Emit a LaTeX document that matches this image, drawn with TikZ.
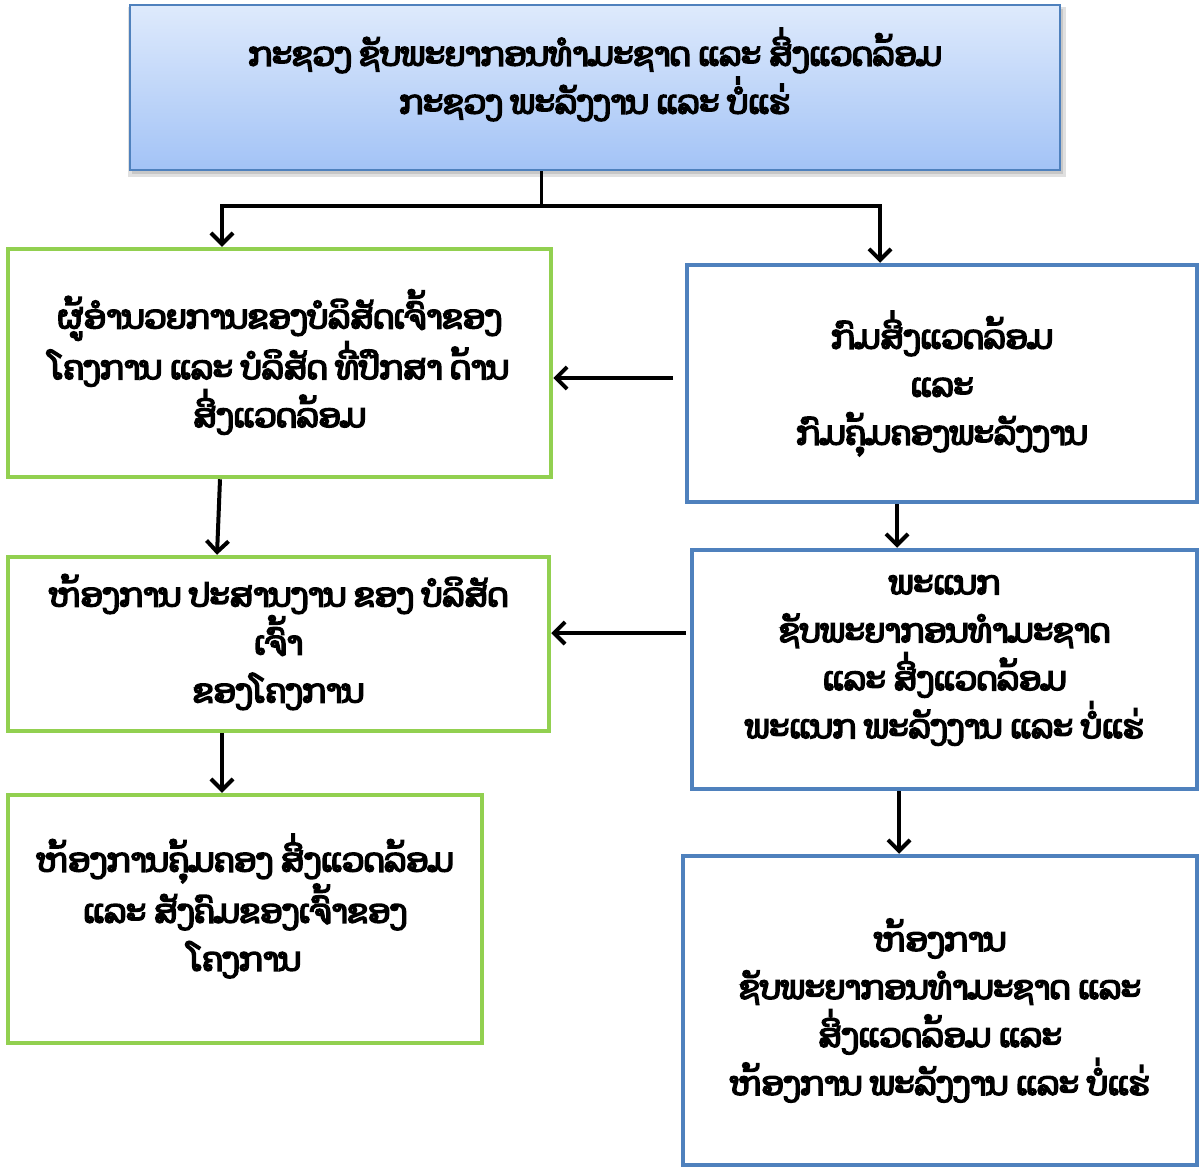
\documentclass[tikz,border=0pt]{standalone}
\usepackage{fontspec}
\newfontfamily\lao[Script=Lao,AutoFakeBold=5.5]{Dhyana}
\usetikzlibrary{arrows.meta}
\definecolor{boxgreen}{HTML}{92D050}
\definecolor{boxblue}{HTML}{4F81BD}
\definecolor{topA}{HTML}{DEEAFC}
\definecolor{topB}{HTML}{A3C3F6}
\tikzset{
  gbox/.style={draw=boxgreen, line width=4.5pt, fill=white, inner sep=0pt},
  bbox/.style={draw=boxblue, line width=4.5pt, fill=white, inner sep=0pt},
  txt/.style={align=center, font=\lao\bfseries\fontsize{32}{48}\selectfont, inner sep=0pt},
  arr/.style={line width=4pt, -{Straight Barb[length=11pt,width=22pt,line width=4pt]}},
  link/.style={line width=3pt}
}
\begin{document}
\begin{tikzpicture}[x=1pt,y=-1pt]
\useasboundingbox (0,0) rectangle (1200,1167);
% shadow of top box
\fill[black!12] (128,7) rectangle (1066,177);
\fill[black!22] (132,9) rectangle (1063,174);
% top box
\node[draw=boxblue, line width=2.5pt, top color=topA, bottom color=topB,
      minimum width=930pt, minimum height=165pt, inner sep=0pt] (top) at (595,87.5) {};
\node[txt] (ttop) at ([yshift=13pt]top.center) {ກະຊວງ ຊັບພະຍາກອນທຳມະຊາດ ແລະ ສິ່ງແວດລ້ອມ\\ກະຊວງ ພະລັງງານ ແລະ ບໍ່ແຮ່};
% left column
\node[gbox, minimum width=543pt, minimum height=228pt] (l1) at (279.5,363) {};
\node[txt] (tl1) at ([yshift=1pt]l1.center) {ຜູ້ອຳນວຍການຂອງບໍລິສັດເຈົ້າຂອງ\\ໂຄງການ ແລະ ບໍລິສັດ ທີ່ປຶກສາ ດ້ານ\\ສິ່ງແວດລ້ອມ};
\node[gbox, minimum width=541pt, minimum height=174pt] (l2) at (278.5,644) {};
\node[txt] (tl2) at ([yshift=2pt]l2.center) {ຫ້ອງການ ປະສານງານ ຂອງ ບໍລິສັດ\\ເຈົ້າ\\ຂອງໂຄງການ};
\node[gbox, minimum width=474pt, minimum height=248pt] (l3) at (245,919) {};
\node[txt] (tl3) at ([yshift=13pt]l3.center) {ຫ້ອງການຄຸ້ມຄອງ ສິ່ງແວດລ້ອມ\\ແລະ ສັງຄົມຂອງເຈົ້າຂອງ\\ໂຄງການ};
% right column
\node[bbox, minimum width=510pt, minimum height=237pt] (r1) at (942,383.5) {};
\node[txt] (tr1) at (r1.center) {ກົມສິ່ງແວດລ້ອມ\\ແລະ\\ກົມຄຸ້ມຄອງພະລັງງານ};
\node[bbox, minimum width=505pt, minimum height=239pt] (r2) at (944.5,669.5) {};
\node[txt] (tr2) at ([yshift=9pt]r2.center) {ພະແນກ\\ຊັບພະຍາກອນທຳມະຊາດ\\ແລະ ສິ່ງແວດລ້ອມ\\ພະແນກ ພະລັງງານ ແລະ ບໍ່ແຮ່};
\node[bbox, minimum width=514pt, minimum height=309pt] (r3) at (940,1010.5) {};
\node[txt] (tr3) at ([yshift=0pt]r3.center) {ຫ້ອງການ\\ຊັບພະຍາກອນທຳມະຊາດ ແລະ\\ສິ່ງແວດລ້ອມ ແລະ\\ຫ້ອງການ ພະລັງງານ ແລະ ບໍ່ແຮ່};
% connectors
\coordinate (split) at (541,206);
\draw[link] (split |- top.south) -- (split);
\draw[arr] (split) -| ([xshift=-57.5pt]l1.north);
\draw[arr] (split) -| ([xshift=-62pt]r1.north);
\coordinate (a1) at (673,378);
\draw[arr] (a1) -- (a1 -| l1.east);
\draw[arr] ([xshift=-4pt,yshift=36.5pt]r2.west) -- ([yshift=36.5pt]r2.west -| l2.east);
\draw[arr] ([xshift=-59.5pt]l1.south) -- ([xshift=-61.5pt]l2.north);
\draw[arr] ([xshift=-56.5pt]l2.south) -- ([xshift=-56.5pt]l2.south |- l3.north);
\draw[arr] ([xshift=-45pt]r1.south) -- ([xshift=-45pt]r1.south |- r2.north);
\draw[arr] ([xshift=-45.5pt]r2.south) -- ([xshift=-45.5pt]r2.south |- r3.north);
\end{tikzpicture}
\end{document}
